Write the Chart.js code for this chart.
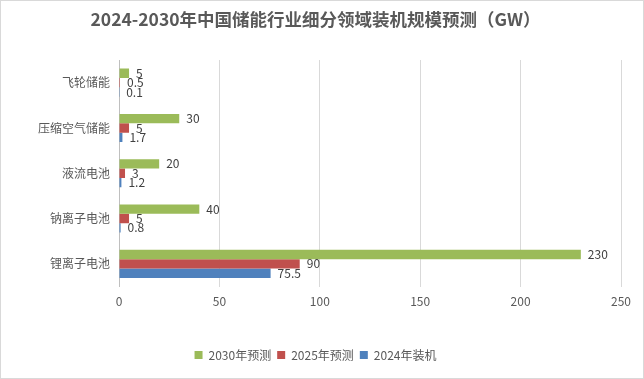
<!DOCTYPE html>
<html><head><meta charset="utf-8">
<script src="https://cdn.jsdelivr.net/npm/chart.js@4.4.1/dist/chart.umd.min.js"></script>
<style>html,body{margin:0;padding:0;background:#fff}#wrap{width:644px;height:379px;position:relative}</style>
</head><body><div id="wrap"><canvas id="c" width="644" height="379"></canvas></div>
<script>
const categories = ['飞轮储能','压缩空气储能','液流电池','钠离子电池','锂离子电池'];
const seriesNames = ['2030年预测','2025年预测','2024年装机'];
const values2030 = [5, 30, 20, 40, 230];
const values2025 = [0.5, 5, 3, 5, 90];
const values2024 = [0.1, 1.7, 1.2, 0.8, 75.5];
const xTicks = [0, 50, 100, 150, 200, 250];
const colors = ['#9BBB59','#C0504D','#4F81BD'];
const FONT = '"Noto Sans CJK SC", "Microsoft YaHei", sans-serif';

const labelPlugin = {
  id: 'labels',
  afterDatasetsDraw(chart) {
    const ctx = chart.ctx;
    ctx.save();
    ctx.font = '12px ' + FONT;
    ctx.fillStyle = '#404040';
    ctx.textBaseline = 'middle';
    ctx.textAlign = 'left';
    chart.data.datasets.forEach((ds, i) => {
      const meta = chart.getDatasetMeta(i);
      meta.data.forEach((bar, j) => {
        ctx.fillText(String(ds.data[j]), bar.x + 7, bar.y);
      });
    });
    ctx.restore();
  }
};
const borderPlugin = {
  id: 'frame',
  afterDraw(chart) {
    const ctx = chart.ctx;
    ctx.save();
    ctx.strokeStyle = '#d9d9d9';
    ctx.lineWidth = 1;
    ctx.strokeRect(0.5, 0.5, chart.width - 1, chart.height - 1);
    ctx.restore();
  }
};

new Chart(document.getElementById('c'), {
  type: 'bar',
  data: {
    labels: categories,
    datasets: [
      {label: seriesNames[0], data: values2030, backgroundColor: colors[0]},
      {label: seriesNames[1], data: values2025, backgroundColor: colors[1]},
      {label: seriesNames[2], data: values2024, backgroundColor: colors[2]}
    ]
  },
  options: {
    indexAxis: 'y',
    responsive: false,
    animation: false,
    devicePixelRatio: 1,
    datasets: {bar: {barPercentage: 1.0, categoryPercentage: 0.62}},
    layout: {padding: {left: 10, right: 23, top: 0, bottom: 8}},
    scales: {
      x: {
        min: 0, max: 250,
        afterBuildTicks(s) { s.ticks = xTicks.map(v => ({value: v})); },
        grid: {color: '#d9d9d9', drawTicks: false},
        border: {display: false},
        ticks: {color: '#595959', font: {size: 12, family: FONT}, padding: 8},
        afterFit(s) { s.height = 56.5; }
      },
      y: {
        grid: {display: false, drawTicks: false},
        border: {display: true, color: '#bfbfbf'},
        ticks: {color: '#595959', font: {size: 12, family: FONT}, padding: 9},
        afterFit(s) { s.width = 109; }
      }
    },
    plugins: {
      title: {
        display: true,
        text: '2024-2030年中国储能行业细分领域装机规模预测（GW）',
        color: '#595959',
        font: {size: 17.5, weight: 'bold', family: FONT},
        padding: {top: 9, bottom: 30}
      },
      legend: {
        position: 'bottom',
        labels: {color: '#595959', font: {size: 12, family: FONT}, boxWidth: 8, boxHeight: 8, padding: 6}
      },
      tooltip: {enabled: false}
    }
  },
  plugins: [labelPlugin, borderPlugin]
});
</script></body></html>
